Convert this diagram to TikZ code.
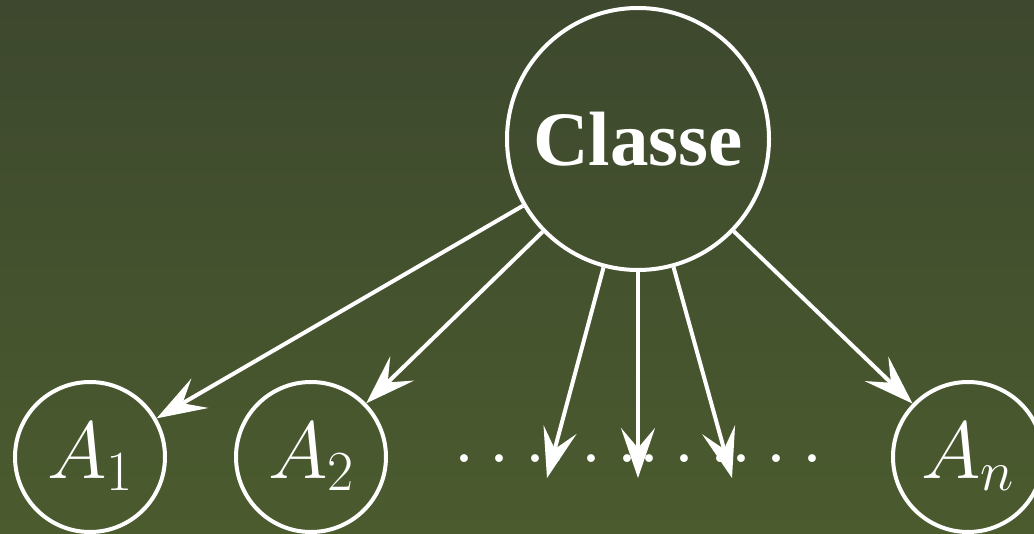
\RequirePackage{fix-cm}
\documentclass[tikz,border=0pt]{standalone}
\usepackage{fontspec}
\newfontfamily\timesbold{Liberation Serif Bold}
\usetikzlibrary{arrows.meta}
\definecolor{bgtop}{RGB}{61,72,46}
\definecolor{bgbot}{RGB}{75,91,46}
\tikzset{
  bignode/.style={circle,draw=white,line width=4pt,minimum size=262pt,inner sep=0pt,text=white,
    font=\timesbold\fontsize{77}{80}\selectfont},
  anode/.style={circle,draw=white,line width=4pt,minimum size=150pt,inner sep=0pt,text=white,
    font=\fontsize{81}{84}\selectfont},
  dotsnode/.style={anchor=base,inner sep=0pt,text=white,font=\fontsize{81}{84}\selectfont},
  arr/.style={draw=white,line width=4pt,-{Stealth[length=50pt,width=34pt,inset=20pt]}}
}
\begin{document}
\begin{tikzpicture}[x=1pt,y=-1pt]
\shade[top color=bgtop,bottom color=bgbot] (0,0) rectangle (1034,534);
\useasboundingbox (0,0) rectangle (1034,534);
\node[bignode] (classe) at (638,139) {Classe};
\node[anode] (a1) at (90,457) {$A_1$};
\node[anode] (a2) at (311,457) {$A_2$};
\node[anode] (an) at (968,457) {$A_n$};
\node[dotsnode] (d1) at (500,463) {$\ldots$};
\node[dotsnode] (d2) at (592,463) {$\ldots$};
\node[dotsnode] (d3) at (685,463) {$\ldots$};
\node[dotsnode] (d4) at (777,463) {$\ldots$};
\coordinate (t1) at (547,478);
\coordinate (t2) at (638,478);
\coordinate (t3) at (732,478);
\draw[arr] (classe) -- (a1);
\draw[arr] (classe) -- (a2);
\draw[arr] (classe) -- (t1);
\draw[arr] (classe) -- (t2);
\draw[arr] (classe) -- (t3);
\draw[arr] (classe) -- (an);
\end{tikzpicture}
\end{document}
